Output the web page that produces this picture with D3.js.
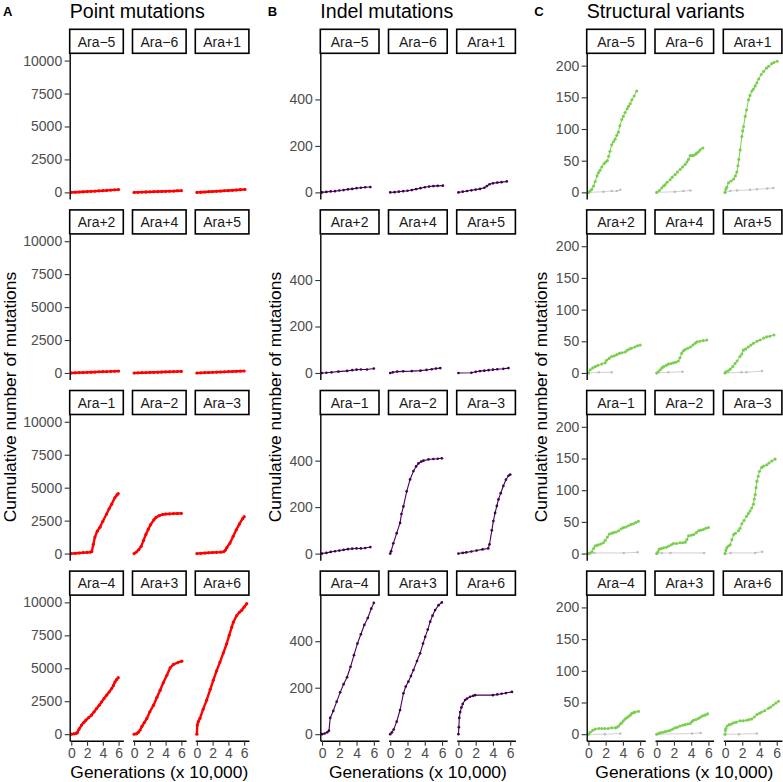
<!DOCTYPE html>
<html><head><meta charset="utf-8">
<script src="https://cdn.jsdelivr.net/npm/d3@7"></script>
<style>
body{margin:0;background:#fff}
svg{display:block}
text{font-family:"Liberation Sans",Arial,Helvetica,sans-serif}
</style>
</head><body>
<svg id="c" width="783" height="782"></svg>
<script>
// ---------------- DATA ----------------
const panelLetters = ["A", "B", "C"];
const panelTitles = ["Point mutations", "Indel mutations", "Structural variants"];
const yAxisTitle = "Cumulative number of mutations";
const xAxisTitle = "Generations (x 10,000)";
const facetRows = [
  ["Ara\u22125", "Ara\u22126", "Ara+1"],
  ["Ara+2", "Ara+4", "Ara+5"],
  ["Ara\u22121", "Ara\u22122", "Ara\u22123"],
  ["Ara\u22124", "Ara+3", "Ara+6"]
];
const xTicks = [0, 2, 4, 6];
const yTicksPoint = [0, 2500, 5000, 7500, 10000];
const yTicksIndel = [0, 200, 400];
const yTicksSV = [0, 50, 100, 150, 200];
const yMaxPoint = 10050, yMaxIndel = 570, yMaxSV = 209;

// Point mutations [generation x 10,000, cumulative count]
const pt_m5 = [[0,0],[0.5,15],[1,28],[1.5,45],[2,62],[2.5,78],[3,95],[3.5,112],[4,128],[4.5,150],[5,172],[5.5,190],[6,212]];
const pt_m6 = [[0,0],[0.5,8],[1,20],[1.5,32],[2,40],[2.5,52],[3,63],[3.5,70],[4,82],[4.5,92],[5,101],[5.5,118],[6,126]];
const pt_p1 = [[0,0],[0.5,12],[1,30],[1.5,52],[2,66],[2.5,85],[3,102],[3.5,122],[4,140],[4.5,158],[5,182],[5.5,203],[6.1,225]];
const pt_p2 = [[0,0],[0.5,12],[1,24],[1.5,33],[2,47],[2.5,58],[3,72],[3.5,84],[4,96],[4.5,104],[5,121],[5.5,130],[6,142]];
const pt_p4 = [[0,0],[0.5,9],[1,21],[1.5,28],[2,41],[2.5,52],[3,58],[3.5,71],[4,82],[4.5,89],[5,101],[5.5,112],[6,121]];
const pt_p5 = [[0,0],[0.5,11],[1,23],[1.5,36],[2,48],[2.5,61],[3,74],[3.5,86],[4,99],[4.5,112],[5,126],[5.5,137],[6,150]];
const pt_m1 = [[0,0],[0.5,20],[1,45],[1.5,70],[2,90],[2.4,110],[2.6,150],[2.8,700],[3.0,1250],[3.3,1700],[3.64,2000],[4.0,2450],[4.48,3000],[4.8,3400],[5.12,3750],[5.54,4250],[5.8,4450],[5.96,4550]];
const pt_m2 = [[0,0],[0.3,120],[0.6,300],[0.9,550],[1.2,1000],[1.5,1450],[1.8,1850],[2.1,2200],[2.5,2550],[2.8,2750],[3.2,2880],[3.6,2960],[4.0,3000],[4.5,3010],[5.0,3030],[5.5,3040],[6.0,3050]];
const pt_m3 = [[0,0],[0.5,20],[1,40],[1.5,60],[2,80],[2.5,95],[3,110],[3.4,140],[3.6,250],[3.8,450],[4.2,800],[4.6,1300],[5.0,1800],[5.4,2250],[5.8,2650],[6.0,2800]];
const pt_m4 = [[0,0],[0.3,20],[0.6,60],[0.76,115],[1.0,400],[1.31,690],[1.6,900],[1.86,1070],[2.2,1250],[2.58,1450],[2.9,1700],[3.21,1950],[3.55,2200],[3.85,2450],[4.15,2700],[4.48,2960],[4.8,3200],[5.12,3460],[5.35,3700],[5.54,3960],[5.75,4150],[5.96,4290]];
const pt_p3 = [[0,0],[0.3,30],[0.55,150],[0.77,317],[1.0,600],[1.3,880],[1.62,1196],[2.0,1700],[2.47,2200],[2.9,2800],[3.31,3340],[3.7,3900],[4.16,4470],[4.58,5040],[5.0,5290],[5.5,5420],[6.06,5540]];
const pt_p6 = [[0,0],[0.05,700],[0.18,950],[0.39,1200],[0.8,1900],[1.24,2580],[1.7,3400],[2.08,4090],[2.5,4800],[2.93,5470],[3.35,6150],[3.78,6860],[4.1,7500],[4.41,8100],[4.63,8500],[5.05,9000],[5.4,9250],[5.68,9400],[6.0,9650],[6.32,9900]];

// Indel mutations
const in_m5 = [[0,0],[0.5,2],[1,4],[1.5,5],[2,8],[2.5,10],[3,13],[3.5,15],[4,18],[4.5,20],[5,22],[5.6,23]];
const in_m6 = [[0,0],[0.5,1],[1,3],[1.5,5],[2,7],[2.5,10],[3,14],[3.5,18],[4,22],[4.5,25],[5,27],[5.5,28],[6.1,29]];
const in_p1 = [[0,0],[0.5,3],[1,6],[1.5,9],[2,12],[2.5,15],[3,20],[3.3,27],[3.6,35],[4,39],[4.5,42],[5,44],[5.6,47]];
const in_p2 = [[0,0],[0.5,1],[1.1,3],[1.9,6],[2.9,9],[3.5,12],[4.0,14],[4.5,15],[5.2,15],[6.0,19]];
const in_p4 = [[0,0],[0.3,3],[0.8,6],[1.5,7],[2.5,8],[3.5,10],[4.2,13],[4.8,16],[5.3,19],[5.8,21]];
const in_p5 = [[0,0],[1.5,1],[2,5],[2.5,8],[3.0,10],[3.5,12],[4,14],[4.5,16],[5.2,18],[5.8,21]];
const in_m1 = [[0,0],[0.5,3],[1,7],[1.5,10],[2,13],[2.5,16],[3,19],[3.5,21],[4,22],[4.5,22],[5,24],[5.6,28]];
const in_m2 = [[0,0],[0.1,10],[0.36,44],[0.75,88],[1.14,132],[1.3,170],[1.53,203],[1.91,268],[2.3,319],[2.69,355],[3.0,375],[3.27,388],[3.6,396],[3.85,400],[4.43,405],[5.0,407],[5.5,408],[5.98,410]];
const in_m3 = [[0,0],[0.5,3],[0.9,5],[1.5,9],[2.1,13],[2.8,18],[3.45,22],[3.6,40],[3.87,100],[4.05,140],[4.25,175],[4.45,205],[4.64,233],[4.9,260],[5.2,291],[5.5,318],[5.8,335],[6.0,340]];
const in_m4 = [[0,0],[0.3,3],[0.6,8],[0.8,15],[0.95,70],[1.3,100],[1.7,140],[2.1,180],[2.5,215],[2.9,245],[3.3,290],[3.7,340],[4.1,390],[4.5,430],[4.9,470],[5.3,500],[5.7,540],[6.0,565]];
const in_p3 = [[0,0],[0.2,8],[0.4,20],[0.75,54],[1.14,104],[1.53,176],[1.8,205],[2.1,226],[2.4,250],[2.69,276],[3.1,315],[3.46,348],[3.8,390],[4.05,419],[4.35,450],[4.63,484],[4.9,510],[5.2,534],[5.6,555],[5.98,567]];
const in_p6 = [[0,0],[0.05,30],[0.1,70],[0.2,95],[0.35,115],[0.5,130],[0.77,147],[1.0,153],[1.35,161],[1.7,165],[1.93,168],[4.0,168],[4.5,171],[5.0,174],[5.5,177],[6.2,182]];

// Structural variants (green) and the grey companion series
const sv_m5 = [[0,0],[0.2,2],[0.39,5],[0.6,10],[0.78,17],[1.0,26],[1.16,31],[1.35,35],[1.55,40],[1.8,45],[2.0,48],[2.2,50],[2.35,57],[2.5,65],[2.71,75],[2.9,80],[3.1,84],[3.3,90],[3.48,95],[3.65,105],[3.87,115],[4.05,120],[4.26,126],[4.5,132],[4.65,136],[4.85,140],[5.04,146],[5.3,152],[5.6,160]];
const sv_m6 = [[0,0],[0.3,3],[0.58,7],[0.8,10],[0.97,12],[1.2,16],[1.55,20],[1.8,24],[2.13,28],[2.4,32],[2.71,36],[3.0,40],[3.29,44],[3.5,48],[3.68,52],[3.88,58],[4.1,58],[4.26,58],[4.5,60],[4.65,62],[4.85,64],[5.04,67],[5.35,70]];
const sv_p1 = [[0,0],[0.1,5],[0.2,8],[0.4,15],[0.7,18],[1.0,21],[1.2,26],[1.37,32],[1.5,42],[1.6,52],[1.76,67],[1.95,88],[2.05,97],[2.15,104],[2.34,120],[2.5,130],[2.73,146],[2.9,153],[3.12,160],[3.3,163],[3.51,168],[3.7,173],[3.9,179],[4.2,186],[4.49,191],[4.8,196],[5.07,199],[5.4,203],[5.66,205],[6.05,207]];
const sv_p2 = [[0,0],[0.2,5],[0.5,8],[0.78,10],[1.1,12],[1.55,14],[1.94,16],[2.1,20],[2.4,23],[2.7,26],[3.0,27],[3.3,29],[3.6,31],[3.9,32],[4.26,33],[4.5,36],[4.8,38],[5.0,39],[5.4,41],[5.7,43],[6.0,44]];
const sv_p4 = [[0,0],[0.2,2],[0.4,5],[0.6,8],[0.8,10],[1.1,12],[1.36,14],[1.65,15],[1.94,16],[2.2,17],[2.5,19],[2.7,24],[2.9,31],[3.1,35],[3.3,37],[3.6,39],[3.9,41],[4.2,44],[4.45,47],[4.65,49],[5.0,50],[5.4,51],[5.8,52]];
const sv_p5 = [[0,0],[0.1,2],[0.35,3],[0.6,6],[0.9,10],[1.16,15],[1.4,19],[1.74,26],[1.95,30],[2.13,36],[2.4,38],[2.7,41],[3.0,44],[3.3,47],[3.7,50],[4.07,52],[4.5,55],[4.84,57],[5.2,58],[5.68,60]];
const sv_m1 = [[0,0],[0.2,1],[0.4,3],[0.6,8],[0.78,12],[1.0,13],[1.16,14],[1.45,15],[1.74,17],[1.95,21],[2.2,26],[2.44,31],[2.7,32],[2.9,33],[3.2,34],[3.5,36],[3.8,39],[4.07,41],[4.35,42],[4.65,44],[4.95,46],[5.23,47],[5.5,49],[5.8,51]];
const sv_m2 = [[0,0],[0.15,3],[0.3,7],[0.55,8],[0.8,9],[1.1,10],[1.4,12],[1.7,14],[1.94,16],[2.3,16],[2.7,17],[3.0,17],[3.3,18],[3.5,22],[3.7,28],[4.0,29],[4.3,30],[4.6,33],[4.85,36],[5.1,37],[5.4,38],[5.7,40],[6.0,41]];
const sv_m3 = [[0,0],[0.1,5],[0.2,9],[0.4,12],[0.6,14],[0.8,22],[1.0,30],[1.2,32],[1.55,36],[1.75,40],[1.95,47],[2.2,52],[2.5,59],[2.7,63],[2.9,67],[3.1,72],[3.3,78],[3.4,86],[3.5,93],[3.6,104],[3.7,114],[3.85,122],[4.0,130],[4.26,136],[4.5,138],[4.85,140],[5.1,143],[5.43,146],[5.8,149]];
const sv_m4 = [[0,0],[0.2,3],[0.5,6],[0.78,8],[1.2,9],[1.55,9],[1.9,9],[2.3,9],[2.7,10],[3.1,10],[3.3,11],[3.5,13],[3.7,16],[3.87,18],[4.05,21],[4.26,24],[4.45,26],[4.65,28],[4.85,30],[5.04,33],[5.25,34],[5.43,35],[5.8,36]];
const sv_p3 = [[0,0],[0.2,1],[0.4,2],[0.7,3],[1.0,4],[1.3,5],[1.55,6],[1.85,8],[2.13,10],[2.4,11],[2.7,13],[3.0,14],[3.3,15],[3.6,16],[3.9,17],[4.1,20],[4.26,22],[4.55,23],[4.85,25],[5.1,27],[5.35,29],[5.6,30],[5.9,32]];
const sv_p6 = [[0,0],[0.05,6],[0.1,9],[0.25,13],[0.5,15],[0.75,16],[1.0,18],[1.3,19],[1.74,21],[2.1,21],[2.5,22],[2.8,23],[3.1,24],[3.4,27],[3.7,31],[4.0,33],[4.26,35],[4.6,37],[5.04,41],[5.3,43],[5.6,46],[5.9,49],[6.2,52]];

const gr_m5 = [[0,0],[1.75,1],[2.7,2],[3.3,2],[3.7,4]];
const gr_m6 = [[0,0],[2.1,1],[3.1,2],[3.9,3]];
const gr_p1 = [[0,0],[0.6,2],[1.4,3],[2.9,4],[3.7,5],[4.9,6],[5.6,7]];
const gr_p2 = [[0,0],[1.2,1],[2.7,1]];
const gr_p4 = [[0,0],[1.35,1],[3.0,2]];
const gr_p5 = [[0,0],[1.9,1],[2.5,1],[4.3,3]];
const gr_m1 = [[0,0],[0.7,1],[4.1,1],[5.7,2]];
const gr_m2 = [[0,0],[0.6,1],[1.6,1],[5.5,1]];
const gr_m3 = [[0,0],[0.65,1],[3.5,1],[4.3,3]];
const gr_m4 = [[0,0],[1.9,0],[3.7,1]];
const gr_p3 = [[0,0],[4.1,1],[5.1,2]];
const gr_p6 = [[0,0],[1.6,0],[3.7,1]];

// Tables built from the arrays
const popKeys = {"Ara\u22125":"m5","Ara\u22126":"m6","Ara+1":"p1","Ara+2":"p2","Ara+4":"p4","Ara+5":"p5",
  "Ara\u22121":"m1","Ara\u22122":"m2","Ara\u22123":"m3","Ara\u22124":"m4","Ara+3":"p3","Ara+6":"p6"};
const pointTable = {m5:pt_m5,m6:pt_m6,p1:pt_p1,p2:pt_p2,p4:pt_p4,p5:pt_p5,m1:pt_m1,m2:pt_m2,m3:pt_m3,m4:pt_m4,p3:pt_p3,p6:pt_p6};
const indelTable = {m5:in_m5,m6:in_m6,p1:in_p1,p2:in_p2,p4:in_p4,p5:in_p5,m1:in_m1,m2:in_m2,m3:in_m3,m4:in_m4,p3:in_p3,p6:in_p6};
const svTable = {m5:sv_m5,m6:sv_m6,p1:sv_p1,p2:sv_p2,p4:sv_p4,p5:sv_p5,m1:sv_m1,m2:sv_m2,m3:sv_m3,m4:sv_m4,p3:sv_p3,p6:sv_p6};
const greyTable = {m5:gr_m5,m6:gr_m6,p1:gr_p1,p2:gr_p2,p4:gr_p4,p5:gr_p5,m1:gr_m1,m2:gr_m2,m3:gr_m3,m4:gr_m4,p3:gr_p3,p6:gr_p6};

// ---------------- DRAWING ----------------
const svg = d3.select("#c");
const FONT_TICK = 14, FONT_STRIP = 14, FONT_AXIS = 17.4, FONT_TITLE = 19.6;
const rowTop0 = 29.3, rowPitch = 180.6, stripH = 24, panelH = 145.7;
const xDomain = [-0.2, 6.6];

const panels = [
  {left:69.7, w:53.6, pitch:62.8, yTitleX:15.5, ticks:yTicksPoint, yMax:yMaxPoint,
   series:[{table:pointTable, color:"#FF0000", lw:2.4, r:1.6}]},
  {left:320.3, w:58.7, pitch:68.2, yTitleX:280.5, ticks:yTicksIndel, yMax:yMaxIndel,
   series:[{table:indelTable, color:"#440154", lw:1.1, r:1.35}]},
  {left:586.7, w:58.6, pitch:68.3, yTitleX:547, ticks:yTicksSV, yMax:yMaxSV,
   series:[{table:greyTable, color:"#BDBDBD", lw:0.9, r:1.25, lineColor:"#CCCCCC"},
           {table:svTable, color:"#79CF4E", lw:1.0, r:1.55}]}
];

panels.forEach((P, pi) => {
  const g = svg.append("g");
  const y0 = -0.05 * P.yMax, y1 = 1.05 * P.yMax;

  // panel letter + title
  g.append("text").attr("x", pi === 0 ? 3 : P.left - 52.5).attr("y", 15.5)
    .attr("font-size", 13).attr("font-weight", "bold").attr("fill", "#000")
    .text(panelLetters[pi]);
  g.append("text").attr("x", P.left).attr("y", 18)
    .attr("font-size", FONT_TITLE).attr("fill", "#000").text(panelTitles[pi]);

  facetRows.forEach((row, ri) => {
    const stripTop = rowTop0 + ri * rowPitch;
    const top = stripTop + stripH;
    const yScale = d3.scaleLinear().domain([y0, y1]).range([top + panelH, top]);

    row.forEach((pop, ci) => {
      const fx = P.left + ci * P.pitch;
      const xScale = d3.scaleLinear().domain(xDomain).range([fx, fx + P.w]);
      const key = popKeys[pop];

      // data
      P.series.forEach(S => {
        const data = S.table[key];
        const line = d3.line().x(d => xScale(d[0])).y(d => yScale(d[1]));
        g.append("path").datum(data).attr("d", line).attr("fill", "none")
          .attr("stroke", S.lineColor || S.color).attr("stroke-width", S.lw)
          .attr("stroke-linejoin", "round");
        g.selectAll(null).data(data).enter().append("circle")
          .attr("cx", d => xScale(d[0])).attr("cy", d => yScale(d[1]))
          .attr("r", S.r).attr("fill", S.color);
      });

      // strip
      g.append("rect").attr("x", fx).attr("y", stripTop).attr("width", P.w).attr("height", stripH)
        .attr("fill", "#fff").attr("stroke", "#000").attr("stroke-width", 1.6);
      g.append("text").attr("x", fx + P.w / 2).attr("y", stripTop + 17.2)
        .attr("text-anchor", "middle").attr("font-size", FONT_STRIP).attr("fill", "#1A1A1A")
        .text(pop);

      // x axis on bottom row
      if (ri === facetRows.length - 1) {
        const ax = g.append("g").attr("transform", `translate(0,${top + panelH})`)
          .call(d3.axisBottom(xScale).tickValues(xTicks).tickSize(5).tickSizeOuter(0).tickPadding(2.5)
            .tickFormat(d3.format("d")));
        ax.select(".domain").attr("stroke", "#000").attr("stroke-width", 1.4);
        ax.selectAll(".tick line").attr("stroke", "#333").attr("stroke-width", 1.1);
        ax.selectAll(".tick text").attr("font-size", FONT_TICK).attr("fill", "#4D4D4D")
          .attr("font-family", "Liberation Sans, Arial, sans-serif");
      }
    });

    // y axis (first column)
    const ay = g.append("g").attr("transform", `translate(${P.left},0)`)
      .call(d3.axisLeft(yScale).tickValues(P.ticks).tickSize(5).tickSizeOuter(0).tickPadding(2.5)
        .tickFormat(d3.format("d")));
    ay.select(".domain").attr("stroke", "#000").attr("stroke-width", 1.4);
    ay.selectAll(".tick line").attr("stroke", "#333").attr("stroke-width", 1.1);
    ay.selectAll(".tick text").attr("font-size", FONT_TICK).attr("fill", "#4D4D4D")
      .attr("font-family", "Liberation Sans, Arial, sans-serif");
  });

  // axis titles
  const firstTop = rowTop0 + stripH;
  const lastBottom = rowTop0 + 3 * rowPitch + stripH + panelH;
  const yc = (firstTop + lastBottom) / 2;
  g.append("text").attr("transform", `translate(${P.yTitleX},${yc}) rotate(-90)`)
    .attr("text-anchor", "middle").attr("font-size", FONT_AXIS).attr("fill", "#000")
    .text(yAxisTitle);
  const xc = P.left + (2 * P.pitch + P.w) / 2;
  g.append("text").attr("x", xc).attr("y", 777.5).attr("text-anchor", "middle")
    .attr("font-size", FONT_AXIS).attr("fill", "#000").text(xAxisTitle);
});
</script>
</body></html>
